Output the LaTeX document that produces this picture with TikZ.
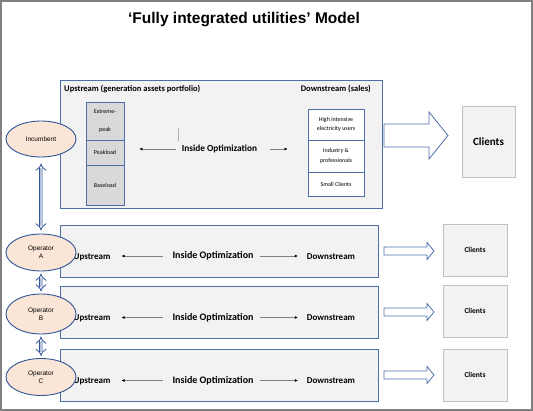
\documentclass[tikz,border=0pt]{standalone}
\usepackage{fontspec}
\setmainfont{Liberation Sans}
\newfontfamily\calib{Carlito}
\usetikzlibrary{arrows.meta,shapes.geometric}
\definecolor{boxfill}{HTML}{F2F2F2}
\definecolor{boxline}{HTML}{4F6FA8}
\definecolor{cellgray}{HTML}{D9D9D9}
\definecolor{peach}{HTML}{FBE5D6}
\definecolor{ovalline}{HTML}{2F5597}
\definecolor{shaftfill}{HTML}{B4C2DC}
\definecolor{clientline}{HTML}{BFBFBF}
\tikzset{
  panel/.style={draw=boxline, fill=boxfill, line width=0.8pt},
  cell/.style={draw=boxline, line width=0.8pt, inner sep=0pt, align=center,
    font=\calib\fontsize{6}{9.5}\selectfont},
  actor/.style={ellipse, draw=ovalline, fill=peach, line width=0.9pt,
    minimum width=70, minimum height=37, inner sep=0pt, align=center,
    font=\fontsize{6.5}{8}\selectfont},
  clients/.style={draw=clientline, fill=boxfill, line width=0.8pt},
  label/.style={font=\calib\bfseries\fontsize{9}{11}\selectfont, inner sep=2pt},
  optlabel/.style={label, font=\calib\bfseries\fontsize{10}{12}\selectfont},
  optarrow/.style={draw=gray, line width=0.6pt, -{Latex[length=3pt,width=3pt,black]}},
  dblarrow/.style={draw=ovalline, double=shaftfill, double distance=3pt, line width=0.8pt,
    {Implies}-{Implies}},
  fatline/.style={draw=boxline, fill=white, line width=0.8pt}
}
% #1,#2 start, #3 length, #4 shaft half, #5 head half, #6 head length
\newcommand\fatarrow[6]{\draw[fatline] (#1,#2) ++(0,-#4) -- ++(#3-#6,0) -- ++(0,#4-#5)
  -- ++(#6,#5) -- ++(-#6,#5) -- ++(0,#4-#5) -- ++(#6-#3,0) -- cycle;}
\begin{document}
\begin{tikzpicture}[x=1pt,y=-1pt]
  \useasboundingbox (0,0) rectangle (533,411);
  \draw[gray, line width=1.2pt] (1,1) rectangle (532,410);
  \node[font=\bfseries\fontsize{15.5}{18}\selectfont] (title) at (244,20) {‘Fully integrated utilities’ Model};

  % integrated company
  \node[panel, minimum width=322, minimum height=128] (top) at (221,144) {};
  \node[label, font=\calib\bfseries\fontsize{8.5}{10}\selectfont, anchor=west] (upTop) at (62,89) {Upstream (generation assets portfolio)};
  \node[label, font=\calib\bfseries\fontsize{8.5}{10}\selectfont, anchor=east] (dnTop) at (373,89) {Downstream (sales)};
  \node[cell, fill=cellgray, minimum width=38, minimum height=38] (extreme) at (105,121) {Extreme-\\[9pt]peak};
  \node[cell, fill=cellgray, minimum width=38, minimum height=25] (peak) at (105,152.5) {Peakload};
  \node[cell, fill=cellgray, minimum width=38, minimum height=40] (base) at (105,185) {Baseload};
  \node[cell, fill=white, minimum width=56, minimum height=31] (high) at (336,124.5) {High intensive\\electricity users};
  \node[cell, fill=white, minimum width=56, minimum height=32] (industry) at (336,156) {Industry \&\\professionals};
  \node[cell, fill=white, minimum width=56, minimum height=24] (small) at (336,184) {Small Clients};
  \node[label, font=\calib\bfseries\fontsize{9.3}{11}\selectfont] (inTop) at (219.5,149) {Inside Optimization};
  \draw[gray!60, line width=0.6pt] (178,128) -- (178,141);
  \draw[optarrow, shorten <=4, shorten >=15] (inTop.west) -- (peak.east |- inTop.west);
  \draw[optarrow, shorten <=11, shorten >=20] (inTop.east) -- (industry.west |- inTop.east);
  \fatarrow{384}{135.5}{64}{11.5}{23.5}{19}
  \node[clients, minimum width=53, minimum height=71] (clTop) at (488.5,141.5) {};
  \node[label, font=\calib\bfseries\fontsize{11}{13}\selectfont] at (clTop) {Clients};

  % operators
  \node[panel, minimum width=318, minimum height=52] (rowA) at (219,251) {};
  \node[panel, minimum width=318, minimum height=52] (rowB) at (219,312) {};
  \node[panel, minimum width=318, minimum height=52] (rowC) at (219,375) {};
  \node[label] (upA) at (92,257) {Upstream};
  \node[label] (upB) at (92,318.5) {Upstream};
  \node[label] (upC) at (92,381) {Upstream};
  \node[optlabel] (inA) at (213,256) {Inside Optimization};
  \node[optlabel] (inB) at (213,317.5) {Inside Optimization};
  \node[optlabel] (inC) at (213,380.5) {Inside Optimization};
  \node[label] (dnA) at (331,256.5) {Downstream};
  \node[label] (dnB) at (331,318) {Downstream};
  \node[label] (dnC) at (331,381) {Downstream};
  \draw[optarrow, shorten <=7, shorten >=9] (inA.west) -- (upA.east |- inA.west);
  \draw[optarrow, shorten <=7, shorten >=9] (inB.west) -- (upB.east |- inB.west);
  \draw[optarrow, shorten <=7, shorten >=9] (inC.west) -- (upC.east |- inC.west);
  \draw[optarrow, shorten <=4, shorten >=7] (inA.east) -- (dnA.west |- inA.east);
  \draw[optarrow, shorten <=4, shorten >=7] (inB.east) -- (dnB.west |- inB.east);
  \draw[optarrow, shorten <=4, shorten >=7] (inC.east) -- (dnC.west |- inC.east);
  \fatarrow{384}{251}{50}{4}{8.5}{7}
  \fatarrow{384}{312}{50}{4}{8.5}{7}
  \fatarrow{384}{375}{50}{4}{8.5}{7}
  \node[clients, minimum width=64, minimum height=52] (clA) at (475,250) {};
  \node[clients, minimum width=64, minimum height=52] (clB) at (475,311) {};
  \node[clients, minimum width=64, minimum height=52] (clC) at (475,375) {};
  \node[label, font=\calib\bfseries\fontsize{7.5}{9}\selectfont] at (clA) {Clients};
  \node[label, font=\calib\bfseries\fontsize{7.5}{9}\selectfont] at (clB) {Clients};
  \node[label, font=\calib\bfseries\fontsize{7.5}{9}\selectfont] at (clC) {Clients};

  % incumbent and operators
  \node[actor, minimum height=36] (incumbent) at (41,139) {Incumbent};
  \node[actor] (opA) at (41,252.5) {Operator\\A};
  \node[actor, minimum height=40] (opB) at (41,314) {Operator\\B};
  \node[actor] (opC) at (41,377) {Operator\\C};
  \draw[dblarrow, shorten <=6, shorten >=3] (incumbent) -- (opA);
  \draw[dblarrow, shorten <=2, shorten >=2] (opA) -- (opB);
  \draw[dblarrow, shorten <=2, shorten >=2] (opB) -- (opC);
\end{tikzpicture}
\end{document}
